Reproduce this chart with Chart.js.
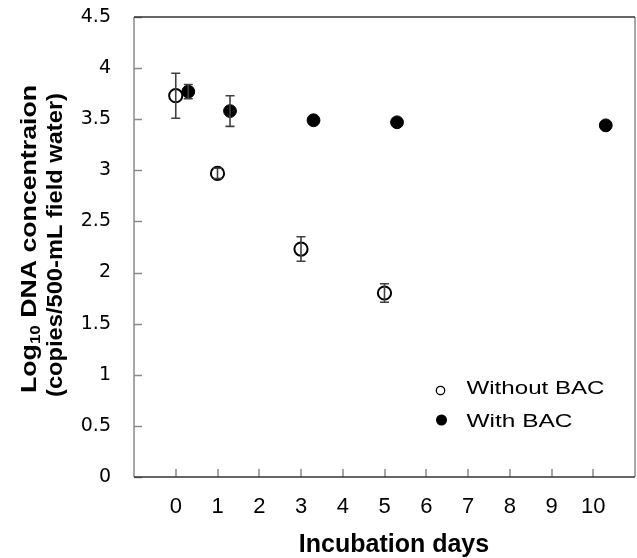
<!DOCTYPE html>
<html>
<head>
<meta charset="utf-8">
<script src="https://cdn.jsdelivr.net/npm/chart.js@4.4.0/dist/chart.umd.min.js"></script>
<style>
  html, body { margin: 0; padding: 0; background: #ffffff; }
  #wrap { width: 637px; height: 558px; }
</style>
</head>
<body>
<div id="wrap"><canvas id="c" width="637" height="558"></canvas></div>
<script>
// ---------- data ----------
const xTickValues = [0, 1, 2, 3, 4, 5, 6, 7, 8, 9, 10];
const yTickStep = 0.5;
const seriesNames = ['Without BAC', 'With BAC'];
const withoutDays = [0, 1, 3, 5];
const withoutValues = [3.73, 2.97, 2.23, 1.80];
const withoutErrors = [0.22, 0.05, 0.12, 0.09];
const withDays = [0.3, 1.3, 3.3, 5.3, 10.3];
const withValues = [3.77, 3.58, 3.49, 3.47, 3.44];
const withErrors = [0.07, 0.15, 0, 0, 0];
const xTitle = 'Incubation days';
const yTitleLine1 = ['Log', '10', ' DNA concentraion'];
const yTitleLine2 = '(copies/500-mL field water)';

const toPoints = (xs, ys) => xs.map((x, i) => ({ x: x, y: ys[i] }));

// ---------- plugins ----------
const FRAME_DARK = '#333333';
const FRAME_LIGHT = '#8a8a8a';

function stretchedText(ctx, text, x, y, targetWidth) {
  const w = ctx.measureText(text).width;
  ctx.save();
  ctx.translate(x, y);
  ctx.scale(targetWidth / w, 1);
  ctx.fillText(text, 0, 0);
  ctx.restore();
}

const frameTicks = {
  id: 'frameTicks',
  beforeDatasetsDraw(chart) {
    const { ctx, chartArea: a, scales } = chart;
    ctx.save();
    ctx.lineWidth = 1.5;
    ctx.strokeStyle = FRAME_LIGHT;
    scales.y.ticks.forEach(t => {
      const py = Math.round(scales.y.getPixelForValue(t.value)) + 0.5;
      ctx.beginPath(); ctx.moveTo(a.left, py); ctx.lineTo(a.left + 8, py); ctx.stroke();
    });
    scales.x.ticks.forEach(t => {
      const px = Math.round(scales.x.getPixelForValue(t.value));
      ctx.beginPath(); ctx.moveTo(px, a.bottom); ctx.lineTo(px, a.bottom - 8); ctx.stroke();
    });
    ctx.strokeStyle = FRAME_LIGHT;
    ctx.beginPath(); ctx.moveTo(a.left, a.top); ctx.lineTo(a.left, a.bottom); ctx.stroke();
    ctx.beginPath(); ctx.moveTo(a.right, a.top); ctx.lineTo(a.right, a.bottom); ctx.stroke();
    ctx.strokeStyle = FRAME_DARK;
    ctx.beginPath(); ctx.moveTo(a.left, a.top); ctx.lineTo(a.right, a.top); ctx.stroke();
    ctx.beginPath(); ctx.moveTo(a.left, a.bottom); ctx.lineTo(a.right, a.bottom); ctx.stroke();
    ctx.restore();
  }
};

const errorBars = {
  id: 'errorBars',
  afterDatasetsDraw(chart) {
    const { ctx, scales: { x, y } } = chart;
    ctx.save();
    ctx.strokeStyle = '#404040';
    ctx.lineWidth = 1.6;
    chart.data.datasets.forEach(ds => {
      if (!ds.errors) return;
      ds.data.forEach((p, j) => {
        const e = ds.errors[j];
        if (!e) return;
        const px = x.getPixelForValue(p.x);
        const yTop = y.getPixelForValue(p.y + e);
        const yBot = y.getPixelForValue(p.y - e);
        ctx.beginPath();
        ctx.moveTo(px, yTop); ctx.lineTo(px, yBot);
        ctx.moveTo(px - 4.5, yTop); ctx.lineTo(px + 4.5, yTop);
        ctx.moveTo(px - 4.5, yBot); ctx.lineTo(px + 4.5, yBot);
        ctx.stroke();
      });
    });
    ctx.restore();
  }
};

const textLayer = {
  id: 'textLayer',
  afterDraw(chart) {
    const ctx = chart.ctx;
    ctx.save();
    ctx.fillStyle = '#000000';

    // legend
    ctx.lineWidth = 1.3;
    ctx.strokeStyle = '#000000';
    ctx.beginPath(); ctx.arc(440.5, 390.5, 4.2, 0, Math.PI * 2);
    ctx.fillStyle = '#ffffff'; ctx.fill(); ctx.stroke();
    ctx.fillStyle = '#000000';
    ctx.beginPath(); ctx.arc(441.5, 420, 5.5, 0, Math.PI * 2); ctx.fill();
    ctx.font = '19px "Liberation Sans", Arial, sans-serif';
    ctx.textAlign = 'left';
    ctx.textBaseline = 'alphabetic';
    stretchedText(ctx, seriesNames[0], 466.5, 393.5, 138);
    stretchedText(ctx, seriesNames[1], 466.5, 426.8, 106);

    // x title
    ctx.font = 'bold 25px "Liberation Sans", Arial, sans-serif';
    ctx.textAlign = 'center';
    ctx.fillText(xTitle, 394, 551.5);

    // y title (rotated, two lines)
    ctx.textAlign = 'left';
    ctx.textBaseline = 'middle';
    const big = 'bold 22px "Liberation Sans", Arial, sans-serif';
    const small = 'bold 14px "Liberation Sans", Arial, sans-serif';
    ctx.save();
    ctx.translate(30, 239);
    ctx.rotate(-Math.PI / 2);
    ctx.font = big; const w0 = ctx.measureText(yTitleLine1[0]).width;
    ctx.font = small; const w1 = ctx.measureText(yTitleLine1[1]).width;
    ctx.font = big; const w2 = ctx.measureText(yTitleLine1[2]).width;
    const total = w0 + w1 + w2;
    ctx.scale(308 / total, 1);
    let cx = -total / 2;
    ctx.font = big; ctx.fillText(yTitleLine1[0], cx, 0); cx += w0;
    ctx.font = small; ctx.fillText(yTitleLine1[1], cx, 6); cx += w1;
    ctx.font = big; ctx.fillText(yTitleLine1[2], cx, 0);
    ctx.restore();
    ctx.save();
    ctx.translate(56, 245);
    ctx.rotate(-Math.PI / 2);
    ctx.font = big;
    ctx.textAlign = 'center';
    const wl2 = ctx.measureText(yTitleLine2).width;
    ctx.scale(304 / wl2, 1);
    ctx.fillText(yTitleLine2, 0, 0);
    ctx.restore();

    ctx.restore();
  }
};

// ---------- chart ----------
new Chart(document.getElementById('c'), {
  type: 'scatter',
  data: {
    datasets: [
      {
        label: seriesNames[0],
        data: toPoints(withoutDays, withoutValues),
        errors: withoutErrors,
        pointStyle: 'circle',
        pointRadius: 6.6,
        pointHoverRadius: 6.6,
        backgroundColor: '#ffffff',
        borderColor: '#000000',
        borderWidth: 2
      },
      {
        label: seriesNames[1],
        data: toPoints(withDays, withValues),
        errors: withErrors,
        pointStyle: 'circle',
        pointRadius: 6.4,
        pointHoverRadius: 6.4,
        backgroundColor: '#000000',
        borderColor: '#000000',
        borderWidth: 1
      }
    ]
  },
  options: {
    responsive: false,
    animation: false,
    devicePixelRatio: 1,
    layout: { autoPadding: false, padding: { top: 17, right: 2, left: 0, bottom: 0 } },
    plugins: {
      legend: { display: false },
      tooltip: { enabled: false }
    },
    scales: {
      x: {
        type: 'linear',
        min: -1,
        max: 11,
        afterBuildTicks: s => { s.ticks = xTickValues.map(v => ({ value: v })); },
        afterFit: s => { s.height = 81; },
        grid: { display: false, drawTicks: true, tickLength: 17 },
        border: { display: false },
        ticks: {
          padding: 0,
          color: '#000000',
          font: { family: '"Liberation Sans", Arial, sans-serif', size: 22 },
          callback: v => String(v),
          maxRotation: 0,
          autoSkip: false
        },
        title: { display: false }
      },
      y: {
        min: 0,
        max: 4.5,
        afterFit: s => { s.width = 134; },
        grid: { display: false, drawTicks: true, tickLength: 23 },
        border: { display: false },
        ticks: {
          stepSize: yTickStep,
          padding: 0,
          color: '#000000',
          font: { family: '"DejaVu Sans", sans-serif', size: 19 },
          callback: v => String(v)
        },
        title: { display: false }
      }
    }
  },
  plugins: [frameTicks, errorBars, textLayer]
});
</script>
</body>
</html>
